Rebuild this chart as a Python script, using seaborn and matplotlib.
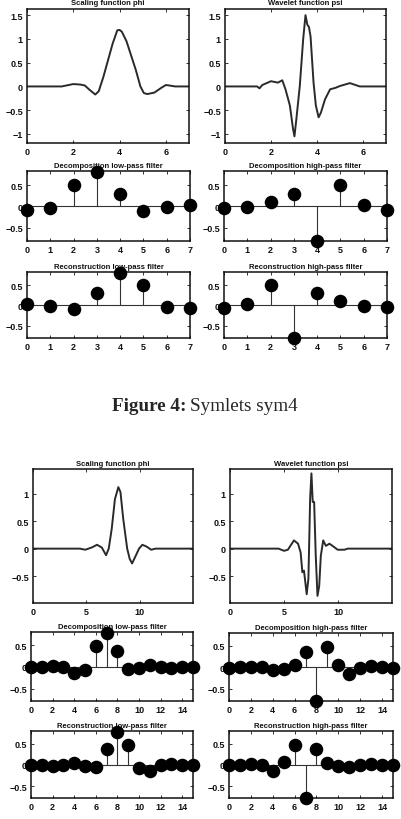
import matplotlib
matplotlib.use("Agg")
import matplotlib.pyplot as plt
import seaborn as sns

sns.set_style("ticks")
plt.rcParams["font.family"] = ["Liberation Sans", "DejaVu Sans"]

# --- sym4: scaling / wavelet function
phi4_x = [0, 1.0, 1.5, 1.8, 2.0, 2.3, 2.5, 2.7, 2.95, 3.1, 3.3, 3.5, 3.7, 3.9, 4.0,
          4.1, 4.3, 4.5, 4.7, 4.9, 5.05, 5.2, 5.5, 5.8, 6.0, 6.15, 6.4, 7.0]
phi4_y = [0, 0, 0, 0.03, 0.05, 0.04, 0.02, -0.07, -0.17, -0.1, 0.2, 0.55, 0.9, 1.18, 1.19,
          1.15, 0.95, 0.65, 0.35, 0.0, -0.14, -0.16, -0.13, -0.03, 0.03, 0.02, 0, 0]
psi4_x = [0, 1.4, 1.5, 1.62, 2.0, 2.3, 2.49, 2.63, 2.82, 2.96, 3.02, 3.1, 3.25, 3.4, 3.5,
          3.58, 3.65, 3.72, 3.85, 3.95, 4.07, 4.17, 4.35, 4.57, 4.8, 5.0, 5.43, 5.86, 7.0]
psi4_y = [0, 0, -0.04, 0.03, 0.11, 0.08, 0.13, -0.06, -0.4, -0.9, -1.05, -0.7, 0.0, 1.0, 1.5,
          1.3, 1.25, 1.05, 0.08, -0.4, -0.65, -0.55, -0.27, -0.06, -0.03, 0.01, 0.07, 0.0, 0]

# --- sym4 filters
lo_d4 = [-0.076, -0.030, 0.498, 0.804, 0.298, -0.099, -0.013, 0.032]
hi_d4 = [-0.032, -0.013, 0.099, 0.298, -0.804, 0.498, 0.030, -0.076]
lo_r4 = [0.032, -0.013, -0.099, 0.298, 0.804, 0.498, -0.030, -0.076]
hi_r4 = [-0.076, 0.030, 0.498, -0.804, 0.298, 0.099, -0.013, -0.032]

# --- sym8: scaling / wavelet function
phi8_x = [0, 4.4, 4.9, 5.5, 6.0, 6.45, 6.85, 7.1, 7.38, 7.68, 8.0, 8.2, 8.46, 8.83,
          9.07, 9.29, 9.63, 9.94, 10.25, 10.62, 11.08, 11.5, 15]
phi8_y = [0, 0, -0.02, 0.02, 0.07, 0.02, -0.12, 0, 0.36, 0.9, 1.12, 1.03, 0.54, 0,
          -0.19, -0.27, -0.13, 0, 0.07, 0.04, -0.02, 0, 0]
psi8_x = [0, 4.5, 5.0, 5.36, 5.92, 6.3, 6.54, 6.7, 6.85, 7.1, 7.26, 7.42, 7.54, 7.66,
          7.79, 7.94, 8.1, 8.26, 8.41, 8.63, 8.88, 9.2, 9.5, 9.97, 10.6, 10.9, 15]
psi8_y = [0, 0, -0.04, -0.02, 0.15, 0.09, -0.07, -0.43, -0.4, -0.83, -0.55, 0.91, 1.37, 0.85,
          0.85, -0.13, -0.86, -0.68, -0.13, 0.15, 0.05, 0.09, 0.05, -0.02, -0.02, 0, 0]

# --- sym8 filters
lo_d8 = [-0.003, -0.001, 0.032, 0.008, -0.143, -0.061, 0.481, 0.777,
         0.364, -0.052, -0.027, 0.049, 0.004, -0.015, -0.000, 0.002]
hi_d8 = [-0.002, -0.000, 0.015, 0.004, -0.049, -0.027, 0.052, 0.364,
         -0.777, 0.481, 0.061, -0.143, -0.008, 0.032, 0.001, -0.003]
lo_r8 = [0.002, -0.000, -0.015, 0.004, 0.049, -0.027, -0.052, 0.364,
         0.777, 0.481, -0.061, -0.143, 0.008, 0.032, -0.001, -0.003]
hi_r8 = [-0.003, 0.001, 0.032, -0.008, -0.143, 0.061, 0.481, -0.777,
         0.364, 0.052, -0.027, -0.049, 0.004, 0.015, -0.000, -0.002]

W, H = 401, 820
fig = plt.figure(figsize=(W / 100, H / 100), dpi=100)


def box(l, r, t, b):
    return fig.add_axes([l / W, 1 - b / H, (r - l) / W, (b - t) / H])


def style(ax, title, xlim, ylim, xticks, yticks):
    ax.set_xlim(*xlim)
    ax.set_ylim(*ylim)
    ax.set_xticks(xticks)
    ax.set_yticks(yticks)
    ax.set_yticklabels([f"{v:g}".replace("-", "\u2212") for v in yticks])
    ax.tick_params(direction="in", top=True, right=True, length=2.5, width=0.6,
                   labelsize=6.5, pad=3, colors="#111")
    for lab in ax.get_xticklabels() + ax.get_yticklabels():
        lab.set_fontweight("bold")
    for s in ax.spines.values():
        s.set_linewidth(1.1)
        s.set_color("#111")
    ax.set_xlabel("")
    ax.set_ylabel("")
    ax.set_title(title, fontsize=5.5, fontweight="bold", pad=3, color="#111")


def curve(ax, x, y, title, xlim, ylim, xticks, yticks):
    sns.lineplot(x=x, y=y, ax=ax, color="#2a2a2a", linewidth=1.4, estimator=None)
    style(ax, title, xlim, ylim, xticks, yticks)


def stems(ax, vals, title, xlim, ylim, xticks, yticks):
    idx = list(range(len(vals)))
    ax.axhline(0, color="#333", linewidth=0.8)
    ax.vlines(idx, 0, vals, color="#333", linewidth=0.8)
    sns.scatterplot(x=idx, y=vals, ax=ax, color="black", s=95, edgecolor="black",
                    linewidth=0, clip_on=False, zorder=5)
    style(ax, title, xlim, ylim, xticks, yticks)


# ---- top figure: sym4
curve(box(27, 189, 9.5, 144), phi4_x, phi4_y, "Scaling function phi",
      (0, 7), (-1.19, 1.64), [0, 2, 4, 6], [-1, -0.5, 0, 0.5, 1, 1.5])
curve(box(225, 386, 9.5, 144), psi4_x, psi4_y, "Wavelet function psi",
      (0, 7), (-1.19, 1.64), [0, 2, 4, 6], [-1, -0.5, 0, 0.5, 1, 1.5])

f4 = dict(xlim=(0, 7), ylim=(-0.81, 0.83), xticks=list(range(8)), yticks=[-0.5, 0, 0.5])
stems(box(27, 190, 172, 242), lo_d4, "Decomposition low-pass filter", **f4)
stems(box(224, 387, 172, 242), hi_d4, "Decomposition high-pass filter", **f4)
stems(box(27, 190, 273, 339), lo_r4, "Reconstruction low-pass filter", **f4)
stems(box(224, 387, 273, 339), hi_r4, "Reconstruction high-pass filter", **f4)

fig.text(186 / W, 1 - 411 / H, "Figure 4:", ha="right", va="baseline",
         fontsize=13.8, fontweight="bold", family="Liberation Serif")
fig.text(190 / W, 1 - 411 / H, "Symlets sym4", ha="left", va="baseline",
         fontsize=13.8, family="Liberation Serif")

# ---- bottom figure: sym8
curve(box(33, 193, 470, 604), phi8_x, phi8_y, "Scaling function phi",
      (0, 15), (-0.99, 1.45), [0, 5, 10], [-0.5, 0, 0.5, 1])
curve(box(230, 392, 470, 604), psi8_x, psi8_y, "Wavelet function psi",
      (0, 15), (-0.99, 1.45), [0, 5, 10], [-0.5, 0, 0.5, 1])

f8 = dict(xlim=(0, 15), ylim=(-0.78, 0.80), xticks=list(range(0, 15, 2)), yticks=[-0.5, 0, 0.5])
stems(box(31, 193, 633, 702), lo_d8, "Decomposition low-pass filter", **f8)
stems(box(229, 393, 634, 702), hi_d8, "Decomposition high-pass filter", **f8)
stems(box(31, 193, 732, 799), lo_r8, "Reconstruction low-pass filter", **f8)
stems(box(229, 393, 732, 799), hi_r8, "Reconstruction high-pass filter", **f8)

fig.savefig("out.png", dpi=100, facecolor="white")
